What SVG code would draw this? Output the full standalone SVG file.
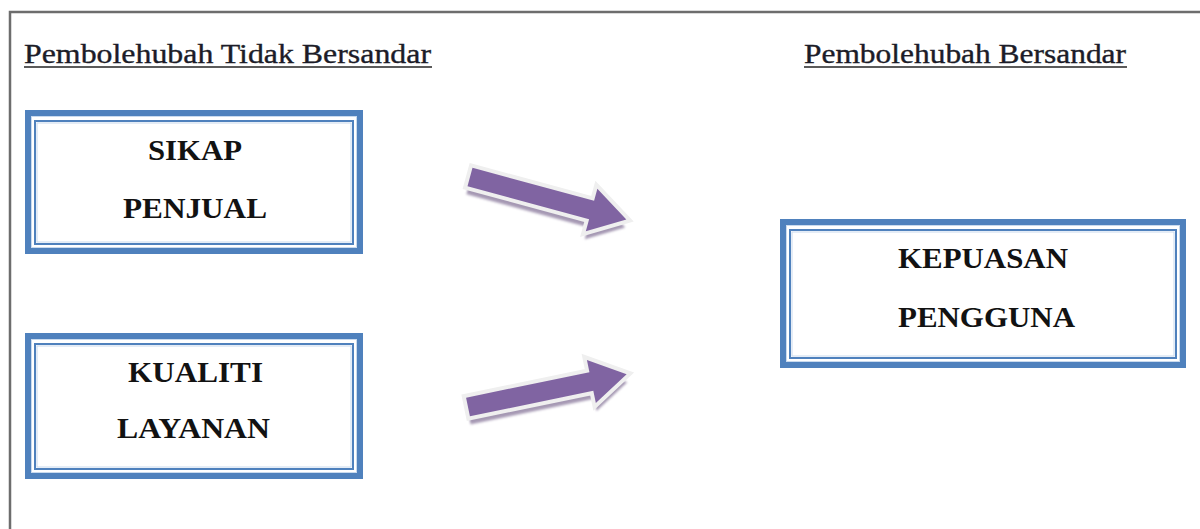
<svg xmlns="http://www.w3.org/2000/svg" width="1200" height="529" viewBox="0 0 1200 529">
  <style>
    .title { font-family: "Liberation Serif", "Times New Roman", serif; font-size: 27px; fill: #1c1c28; stroke: #1c1c28; stroke-width: 0.35; }
    .uline { stroke: #5a5a5a; stroke-width: 2; }
    .label { font-family: "Liberation Serif", "Times New Roman", serif; font-size: 29px; font-weight: bold; fill: #121212; text-anchor: middle; }
    .band { fill: #ffffff; stroke: #4f81bd; stroke-width: 6; }
    .hair { fill: none; stroke: #4f81bd; stroke-width: 2; }
    .soft { fill: none; stroke: #c9daee; stroke-width: 1; }
    .arrow-body { fill: #8064a2; stroke: #efefef; stroke-width: 8; stroke-linejoin: miter; paint-order: stroke; }
    .arrow-shadow { fill: #a598b3; }
  </style>
  <defs>
    <filter id="shadowBlur" x="-10%" y="-30%" width="120%" height="160%">
      <feGaussianBlur stdDeviation="1.2"/>
    </filter>
    <path id="arrowShape" d="M0,-9.5 L126,-9.5 L126,-22 L162,0 L126,22 L126,9.5 L0,9.5 Z"/>
  </defs>

  <rect x="0" y="0" width="1200" height="529" fill="#ffffff"/>

  <!-- page frame -->
  <path d="M10,529 L10,12 L1200,12" fill="none" stroke="#6d6d6d" stroke-width="2.5"/>

  <!-- column headings -->
  <g id="heading-independent">
    <text class="title" x="24" y="63" textLength="407" lengthAdjust="spacingAndGlyphs">Pembolehubah Tidak Bersandar</text>
    <line class="uline" x1="24" y1="67" x2="432" y2="67"/>
  </g>
  <g id="heading-dependent">
    <text class="title" x="804" y="63" textLength="322" lengthAdjust="spacingAndGlyphs">Pembolehubah Bersandar</text>
    <line class="uline" x1="804" y1="67" x2="1127" y2="67"/>
  </g>

  <!-- node: Sikap Penjual -->
  <g id="node-sikap-penjual">
    <rect class="band" x="28" y="113" width="332" height="138"/>
    <rect class="soft" x="31.5" y="116.5" width="325" height="131"/>
    <rect class="hair" x="35" y="121" width="318" height="123"/>
    <rect class="soft" x="37" y="123" width="314" height="119"/>
    <text class="label" x="195" y="160" textLength="94" lengthAdjust="spacingAndGlyphs">SIKAP</text>
    <text class="label" x="195" y="218" textLength="144" lengthAdjust="spacingAndGlyphs">PENJUAL</text>
  </g>

  <!-- node: Kualiti Layanan -->
  <g id="node-kualiti-layanan">
    <rect class="band" x="28" y="336" width="332" height="140"/>
    <rect class="soft" x="31.5" y="339.5" width="325" height="133"/>
    <rect class="hair" x="35" y="344" width="318" height="125"/>
    <rect class="soft" x="37" y="346" width="314" height="121"/>
    <text class="label" x="195.5" y="382" textLength="135" lengthAdjust="spacingAndGlyphs">KUALITI</text>
    <text class="label" x="193.5" y="438" textLength="153" lengthAdjust="spacingAndGlyphs">LAYANAN</text>
  </g>

  <!-- node: Kepuasan Pengguna -->
  <g id="node-kepuasan-pengguna">
    <rect class="band" x="783" y="222" width="400" height="143"/>
    <rect class="soft" x="786.5" y="225.5" width="393" height="136"/>
    <rect class="hair" x="790" y="230" width="386" height="128"/>
    <rect class="soft" x="792" y="232" width="382" height="124"/>
    <text class="label" x="983" y="268" textLength="170" lengthAdjust="spacingAndGlyphs">KEPUASAN</text>
    <text class="label" x="986.5" y="327" textLength="177" lengthAdjust="spacingAndGlyphs">PENGGUNA</text>
  </g>

  <!-- connectors: block arrows with light bevel edge and drop shadow -->
  <g id="connectors">
    <g transform="translate(470,177) rotate(15.2)">
      <use href="#arrowShape" class="arrow-shadow" transform="translate(1,8)" filter="url(#shadowBlur)"/>
      <use href="#arrowShape" class="arrow-body"/>
    </g>
    <g transform="translate(468,407) rotate(-11.7)">
      <use href="#arrowShape" class="arrow-shadow" transform="translate(-1,8)" filter="url(#shadowBlur)"/>
      <use href="#arrowShape" class="arrow-body"/>
    </g>
  </g>
</svg>
